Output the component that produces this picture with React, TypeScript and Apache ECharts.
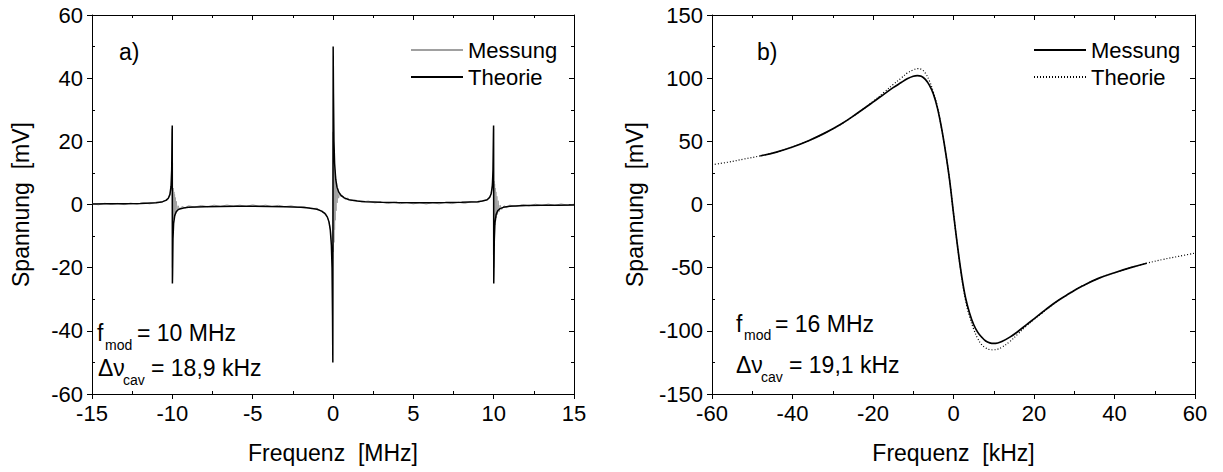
import { useEffect, useRef } from "react";
import * as echarts from "echarts";

// ---------- Panel a) : values ----------
const xRangeA = [-15, 15];
const yRangeA = [-60, 60];
const xIntervalA = 5;
const yIntervalA = 20;

const messungA: [number, number][] = [
  [-15, 0.3], [-14.6, -0.1], [-14.2, 0.4], [-13.8, 0.0], [-13.4, 0.35], [-13.0, -0.05],
  [-12.6, 0.45], [-12.2, 0.1], [-11.8, 0.55], [-11.4, 0.2], [-11.0, 0.75], [-10.7, 0.6],
  [-10.5, 1.2], [-10.3, 1.4], [-10.15, 3.0], [-10.06, 6], [-10.02, 15], [-10.005, 24],
  [-9.995, -20], [-9.98, 4.5], [-9.96, -4.8], [-9.94, 5.2], [-9.92, -4.5], [-9.9, 4.0],
  [-9.88, -4.2], [-9.86, 3.2], [-9.84, -3.6], [-9.81, 2.2], [-9.78, -2.8], [-9.75, 1.0],
  [-9.7, -2.2], [-9.64, -0.4], [-9.55, -1.6], [-9.4, -0.6], [-9.2, -1.1], [-9.0, -0.4],
  [-8.6, -0.8], [-8.2, -0.3], [-7.8, -0.7], [-7.4, -0.2], [-7.0, -0.6], [-6.6, -0.15],
  [-6.2, -0.55], [-5.8, -0.2], [-5.4, -0.6], [-5.0, -0.1], [-4.6, -0.55], [-4.2, -0.2],
  [-3.8, -0.65], [-3.4, -0.25], [-3.0, -0.7], [-2.6, -0.4], [-2.2, -0.95], [-1.8, -0.7],
  [-1.4, -1.3], [-1.0, -1.2], [-0.7, -2.3], [-0.45, -2.8], [-0.3, -4.6], [-0.18, -7],
  [-0.1, -11], [-0.05, -16], [-0.02, -17], [-0.005, 5], [0.005, 23], [0.02, -15],
  [0.04, 16], [0.06, -12], [0.08, 14], [0.1, -8], [0.12, 11], [0.14, -5], [0.16, 9],
  [0.19, -2], [0.22, 7], [0.26, 0.5], [0.3, 5], [0.35, 2], [0.42, 3.6], [0.5, 2.4],
  [0.6, 2.8], [0.75, 1.6], [0.9, 2.0], [1.1, 1.2], [1.4, 1.4], [1.8, 0.8], [2.2, 1.1],
  [2.6, 0.5], [3.0, 0.8], [3.4, 0.3], [3.8, 0.7], [4.2, 0.25], [4.6, 0.65], [5.0, 0.2],
  [5.4, 0.6], [5.8, 0.15], [6.2, 0.6], [6.6, 0.2], [7.0, 0.65], [7.4, 0.25], [7.8, 0.7],
  [8.2, 0.35], [8.6, 0.9], [9.0, 0.6], [9.3, 1.2], [9.55, 1.3], [9.7, 2.4], [9.8, 2.8],
  [9.88, 4.5], [9.94, 7.5], [9.98, 14], [9.995, 24], [10.005, -20], [10.02, 7.4],
  [10.04, -8], [10.06, 6.5], [10.08, -6.5], [10.1, 5.2], [10.12, -5.2], [10.14, 4],
  [10.17, -4.2], [10.2, 2.6], [10.24, -3.2], [10.28, 1.2], [10.33, -2.4], [10.4, -0.2],
  [10.5, -1.6], [10.65, -0.4], [10.8, -1.0], [11.0, -0.2], [11.4, -0.6], [11.8, 0.0],
  [12.2, -0.45], [12.6, 0.1], [13.0, -0.35], [13.4, 0.15], [13.8, -0.3], [14.2, 0.2],
  [14.6, -0.25], [15, 0.1],
];

const theorieA: [number, number][] = [
  [-15, 0.15], [-14, 0.2], [-13, 0.25], [-12, 0.35], [-11, 0.55], [-10.6, 0.9],
  [-10.4, 1.3], [-10.25, 2.0], [-10.15, 3.2], [-10.08, 5.8], [-10.04, 11], [-10.015, 22],
  [-10.005, 25], [-9.995, -25], [-9.985, -22], [-9.96, -11], [-9.92, -6], [-9.85, -3.5],
  [-9.75, -2.2], [-9.6, -1.5], [-9.3, -1.1], [-9, -0.9], [-8, -0.7], [-7, -0.6],
  [-6, -0.55], [-5, -0.55], [-4, -0.6], [-3, -0.7], [-2, -0.9], [-1.5, -1.1],
  [-1, -1.5], [-0.7, -2.1], [-0.5, -2.9], [-0.35, -4], [-0.25, -5.5], [-0.17, -8],
  [-0.1, -13], [-0.06, -20], [-0.03, -35], [-0.01, -50], [0.01, 50], [0.03, 35],
  [0.06, 20], [0.1, 13], [0.17, 8], [0.25, 5.5], [0.35, 4], [0.5, 2.9], [0.7, 2.1],
  [1, 1.5], [1.5, 1.1], [2, 0.9], [3, 0.7], [4, 0.6], [5, 0.55], [6, 0.55], [7, 0.6],
  [8, 0.7], [9, 0.9], [9.3, 1.1], [9.6, 1.5], [9.75, 2.2], [9.85, 3.5], [9.92, 6],
  [9.96, 11], [9.985, 22], [9.995, 25], [10.005, -25], [10.015, -22], [10.04, -11],
  [10.08, -5.8], [10.15, -3.2], [10.25, -2.0], [10.4, -1.3], [10.6, -0.9], [11, -0.55],
  [12, -0.35], [13, -0.25], [14, -0.2], [15, -0.15],
];

// ---------- Panel b) ----------
const xRangeB = [-60, 60];
const yRangeB = [-150, 150];
const xIntervalB = 20;
const yIntervalB = 50;

const messungB: [number, number][] = [
  [-48, 38.5], [-44, 41.5], [-40, 45.5], [-36, 50.5], [-32, 56.5], [-28, 63.5], [-24, 72],
  [-20, 81], [-17, 88], [-15, 92.5], [-13, 96.5], [-11.5, 99.5], [-10, 101.5], [-9, 102],
  [-8, 101.5], [-7, 99], [-6, 94.5], [-5, 87.5], [-4, 76.5], [-3, 61], [-2, 42], [-1, 20],
  [0, -7], [1, -33], [2, -56], [3, -74], [4, -86], [5, -95], [6, -101], [7, -105],
  [8, -108], [9, -109.5], [10, -110], [11, -109.6], [12, -108.5], [14, -105], [16, -100.5],
  [18, -95.5], [20, -90.5], [22, -85.5], [24, -80.5], [26, -76], [28, -72], [30, -68],
  [32, -64.5], [36, -58.5], [40, -54], [44, -50], [48, -46.5],
];

const theorieB: [number, number][] = [
  [-60, 31.5], [-56, 33.5], [-52, 36], [-48, 38.5], [-44, 41.5], [-40, 45.5], [-36, 50.5],
  [-32, 56.5], [-28, 63.5], [-24, 72], [-20, 81.5], [-17, 89.5], [-15, 95], [-13, 100],
  [-11.5, 104], [-10, 106.5], [-9, 107.5], [-8, 107], [-7, 104], [-6, 98], [-5, 89],
  [-4, 77.5], [-3, 61], [-2, 42], [-1, 20], [0, -7], [1, -33], [2, -57], [3, -76],
  [4, -89], [5, -98.5], [6, -106], [7, -111], [8, -113.5], [9, -114.8], [10, -115],
  [11, -114.5], [12, -113], [14, -108.5], [16, -102.5], [18, -96.5], [20, -91], [22, -86],
  [24, -81], [26, -76], [28, -72], [30, -68], [32, -64.5], [36, -58.5], [40, -54],
  [44, -50], [48, -46.5], [52, -43.5], [56, -41], [60, -38.5],
];

const FONT = "'Liberation Sans', Arial, Helvetica, sans-serif";
const BLACK = "#000";
const GRAY = "#a0a0a0";

function xAxes(gridIndex: number, range: number[], interval: number, name: string) {
  const base = { type: "value", gridIndex, min: range[0], max: range[1], interval, splitLine: { show: false } };
  return [
    {
      ...base,
      position: "bottom",
      name,
      nameLocation: "middle",
      nameGap: 47,
      nameTextStyle: { fontSize: 23, color: BLACK, fontFamily: FONT },
      axisLine: { show: true, onZero: false, lineStyle: { color: BLACK, width: 1 } },
      axisTick: { show: true, inside: false, length: 5, lineStyle: { color: BLACK } },
      minorTick: { show: false },
      axisLabel: { fontSize: 22, color: BLACK, margin: 8, fontFamily: FONT },
    },
    {
      ...base,
      position: "bottom",
      axisLine: { show: false, onZero: false },
      axisTick: { show: false, inside: true },
      minorTick: { show: true, splitNumber: 2, length: 3, lineStyle: { color: BLACK } },
      axisLabel: { show: false },
    },
    {
      ...base,
      position: "top",
      axisLine: { show: true, onZero: false, lineStyle: { color: BLACK, width: 1 } },
      axisTick: { show: true, inside: true, length: 5, lineStyle: { color: BLACK } },
      minorTick: { show: true, splitNumber: 2, length: 3, lineStyle: { color: BLACK } },
      axisLabel: { show: false },
    },
  ];
}

function yAxes(gridIndex: number, range: number[], interval: number, name: string, nameGap: number) {
  const base = { type: "value", gridIndex, min: range[0], max: range[1], interval, splitLine: { show: false } };
  return [
    {
      ...base,
      position: "left",
      name,
      nameLocation: "middle",
      nameGap,
      nameTextStyle: { fontSize: 23, color: BLACK, fontFamily: FONT },
      axisLine: { show: true, onZero: false, lineStyle: { color: BLACK, width: 1 } },
      axisTick: { show: true, inside: false, length: 5, lineStyle: { color: BLACK } },
      minorTick: { show: false },
      axisLabel: { fontSize: 22, color: BLACK, margin: 9, fontFamily: FONT },
    },
    {
      ...base,
      position: "left",
      axisLine: { show: false, onZero: false },
      axisTick: { show: false, inside: true },
      minorTick: { show: true, splitNumber: 2, length: 3, lineStyle: { color: BLACK } },
      axisLabel: { show: false },
    },
    {
      ...base,
      position: "right",
      axisLine: { show: true, onZero: false, lineStyle: { color: BLACK, width: 1 } },
      axisTick: { show: true, inside: true, length: 5, lineStyle: { color: BLACK } },
      minorTick: { show: true, splitNumber: 2, length: 3, lineStyle: { color: BLACK } },
      axisLabel: { show: false },
    },
  ];
}

function txt(text: string, x: number, y: number, size: number) {
  return {
    type: "text",
    x,
    y,
    silent: true,
    style: { text, fill: BLACK, fontSize: size, fontFamily: FONT, verticalAlign: "middle", align: "left" },
  };
}

function legendAt(left: number, names: string[]) {
  return {
    orient: "vertical",
    left,
    top: 39,
    padding: 0,
    itemGap: 5,
    itemWidth: 52,
    itemHeight: 14,
    selectedMode: false,
    itemStyle: { opacity: 0, borderWidth: 0, color: "transparent" },
    formatter: (n: string) => n.replace(" (b)", ""),
    textStyle: { fontSize: 22, color: BLACK, fontFamily: FONT, lineHeight: 22 },
    data: names,
  };
}

export default function App() {
  const ref = useRef<HTMLDivElement>(null);

  useEffect(() => {
    document.body.style.margin = "0";
    const chart = echarts.init(ref.current!, null, { renderer: "svg" });
    chart.setOption({
      animation: false,
      backgroundColor: "#fff",
      textStyle: { fontFamily: FONT },
      grid: [
        { left: 92, top: 15, width: 482, height: 379 },
        { left: 712, top: 15, width: 483, height: 379 },
      ],
      xAxis: [
        ...xAxes(0, xRangeA, xIntervalA, "Frequenz  [MHz]"),
        ...xAxes(1, xRangeB, xIntervalB, "Frequenz  [kHz]"),
      ],
      yAxis: [
        ...yAxes(0, yRangeA, yIntervalA, "Spannung  [mV]", 60),
        ...yAxes(1, yRangeB, yIntervalB, "Spannung  [mV]", 66),
      ],
      legend: [legendAt(410, ["Messung", "Theorie"]), legendAt(1033, ["Messung (b)", "Theorie (b)"])],
      series: [
        {
          name: "Messung",
          type: "line",
          xAxisIndex: 0,
          yAxisIndex: 0,
          data: messungA,
          symbol: "none",
          lineStyle: { color: GRAY, width: 1 },
          itemStyle: { color: GRAY },
        },
        {
          name: "Theorie",
          type: "line",
          xAxisIndex: 0,
          yAxisIndex: 0,
          data: theorieA,
          symbol: "none",
          lineStyle: { color: BLACK, width: 1.5 },
          itemStyle: { color: BLACK },
        },
        {
          name: "Theorie (b)",
          type: "line",
          xAxisIndex: 3,
          yAxisIndex: 3,
          data: theorieB,
          symbol: "none",
          smooth: 0.4,
          lineStyle: { color: BLACK, width: 1.2, type: [1, 2] },
          itemStyle: { color: BLACK },
        },
        {
          name: "Messung (b)",
          type: "line",
          xAxisIndex: 3,
          yAxisIndex: 3,
          data: messungB,
          symbol: "none",
          smooth: 0.4,
          lineStyle: { color: BLACK, width: 1.7 },
          itemStyle: { color: BLACK },
        },
      ],
      graphic: [
        txt("a)", 119, 52, 23),
        txt("f", 97, 333, 23),
        txt("mod", 105, 345, 14),
        txt("= 10 MHz", 137, 333, 23),
        txt("Δν", 98, 368, 23),
        txt("cav", 123, 380, 14),
        txt("= 18,9 kHz", 151, 368, 23),
        txt("b)", 757, 52, 23),
        txt("f", 736, 324, 23),
        txt("mod", 744, 335, 14),
        txt("= 16 MHz", 775, 324, 23),
        txt("Δν", 736, 365, 23),
        txt("cav", 761, 377, 14),
        txt("= 19,1 kHz", 789, 365, 23),
      ],
    });
    return () => chart.dispose();
  }, []);

  return <div ref={ref} style={{ width: 1223, height: 472 }} />;
}
